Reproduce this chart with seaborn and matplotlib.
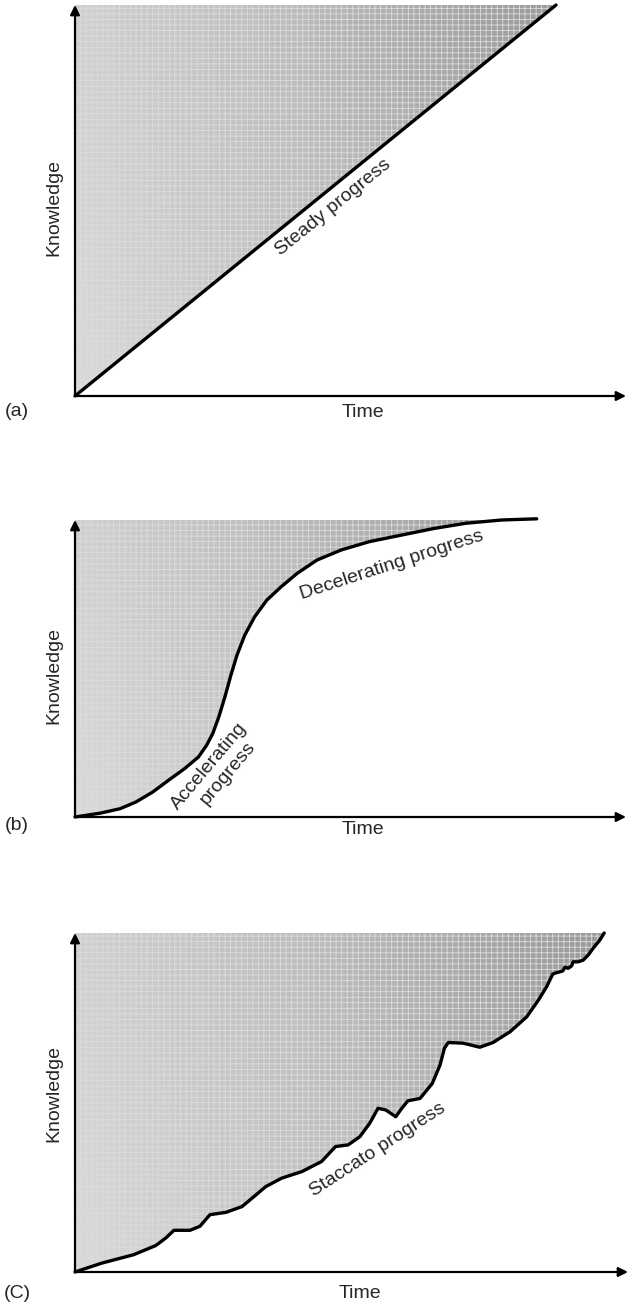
import numpy as np
import matplotlib
matplotlib.use('Agg')
import matplotlib.pyplot as plt
from matplotlib.patches import Polygon
from matplotlib import transforms
import seaborn as sns

sns.set_style('white')
plt.rcParams['font.family'] = ['Liberation Sans', 'DejaVu Sans']
plt.rcParams['hatch.linewidth'] = 0.6

# ---- data (time and knowledge, both 0..1 of the axis length)
time_a = [0.0, 0.873]
know_a = [0.0, 1.0]

time_b = [0.0, 0.046, 0.082, 0.111, 0.141, 0.170, 0.199, 0.224, 0.239, 0.250,
          0.261, 0.272, 0.283, 0.294, 0.308, 0.326, 0.348, 0.374, 0.403, 0.439,
          0.483, 0.534, 0.592, 0.650, 0.709, 0.774, 0.838]
know_b = [0.0, 0.013, 0.028, 0.051, 0.084, 0.124, 0.163, 0.202, 0.242, 0.281,
          0.337, 0.404, 0.478, 0.545, 0.612, 0.674, 0.730, 0.775, 0.820, 0.865,
          0.899, 0.927, 0.949, 0.971, 0.989, 1.0, 1.004]

time_c = [0.0, 0.048, 0.106, 0.146, 0.164, 0.179, 0.208, 0.226, 0.244, 0.273,
          0.302, 0.324, 0.345, 0.374, 0.410, 0.446, 0.471, 0.494, 0.515, 0.533,
          0.548, 0.562, 0.580, 0.591, 0.602, 0.624, 0.646, 0.660, 0.668, 0.675,
          0.702, 0.732, 0.756, 0.787, 0.817, 0.838, 0.853, 0.864, 0.871, 0.882,
          0.886, 0.892, 0.898, 0.901, 0.910, 0.919, 0.928, 0.937, 0.949, 0.957]
know_c = [0.0, 0.026, 0.051, 0.078, 0.100, 0.123, 0.123, 0.135, 0.169, 0.176,
          0.193, 0.223, 0.252, 0.277, 0.296, 0.326, 0.370, 0.375, 0.399, 0.439,
          0.483, 0.478, 0.458, 0.483, 0.505, 0.512, 0.556, 0.610, 0.660, 0.677,
          0.675, 0.663, 0.677, 0.709, 0.753, 0.802, 0.842, 0.879, 0.883, 0.888,
          0.899, 0.896, 0.903, 0.915, 0.915, 0.920, 0.935, 0.955, 0.979, 1.0]

panel_tags = ['(a)', '(b)', '(C)']
x_label = 'Time'
y_label = 'Knowledge'

W, H = 629, 1305
fig = plt.figure(figsize=(W / 100, H / 100), dpi=100)


def px_axes(left, top, right, bottom):
    return fig.add_axes([left / W, 1 - bottom / H, (right - left) / W, (bottom - top) / H])


def draw_panel(ax, t, k):
    ax.set_xlim(0, 1)
    ax.set_ylim(0, 1)
    ax.axis('off')
    # shaded area between knowledge axis and the curve
    verts = [(0, 0)] + list(zip(t, k)) + [(t[-1], 1.0), (0, 1.0)]
    poly = Polygon(verts, closed=True, facecolor='none', edgecolor='none')
    ax.add_patch(poly)
    xx = np.linspace(0, 1, 300)
    yy = np.linspace(0, 1, 150)
    gx, gy = np.meshgrid(xx, yy)
    shade = 0.25 + 0.20 * np.clip(gx / t[-1], 0, 1) + 0.04 * gy
    img = ax.imshow(shade, extent=[0, 1, 0, 1], origin='lower', cmap='Greys',
                    vmin=0, vmax=1, aspect='auto', interpolation='bilinear', zorder=1)
    img.set_clip_path(poly)
    hatch = Polygon(verts, closed=True, facecolor='none', edgecolor='#dcdcdc',
                    hatch='+++', linewidth=0, zorder=2)
    ax.add_patch(hatch)
    sns.lineplot(x=t, y=k, ax=ax, color='black', linewidth=2.4, sort=False,
                 estimator=None, zorder=4)
    for c in ax.lines:
        c.set_clip_on(False)
    # axes as arrows
    for tip in [(1, 0), (0, 1)]:
        ax.annotate('', xy=tip, xytext=(0, 0), xycoords='data',
                    arrowprops=dict(arrowstyle='-|>', color='black', lw=1.6,
                                    mutation_scale=14, shrinkA=0, shrinkB=0), zorder=5)


def curve_label(ax, x, y, s, angle, perp, along=0.0):
    # text centred on a point, pushed sideways (in pixels) to sit beside the curve
    a = np.deg2rad(angle)
    dx = along * np.cos(a) + perp * np.sin(a)
    dy = along * np.sin(a) - perp * np.cos(a)
    tr = transforms.offset_copy(ax.transData, fig=fig, x=dx, y=dy, units='dots')
    ax.text(x, y, s, transform=tr, rotation=angle, rotation_mode='anchor',
            ha='center', va='center', fontsize=14, zorder=6)


ax_a = px_axes(75, 5, 626, 396)
ax_b = px_axes(75, 520, 626, 817)
ax_c = px_axes(75, 933, 628, 1272)

draw_panel(ax_a, time_a, know_a)
draw_panel(ax_b, time_b, know_b)
draw_panel(ax_c, time_c, know_c)

curve_label(ax_a, 0.45, 0.45 / 0.873, 'Steady progress', 39, 17)
curve_label(ax_b, 0.574, 0.848, 'Decelerating progress', 18, 0)
curve_label(ax_b, 0.224, 0.202, 'Accelerating', 50, 14)
curve_label(ax_b, 0.224, 0.202, 'progress', 50, 33, along=6)
curve_label(ax_c, 0.548, 0.360, 'Staccato progress', 33, 0)

# axis titles and panel tags
for ky, ty, tx in [(207, 413, 363), (676, 829, 363), (1094, 1293, 360)]:
    fig.text(54 / W, 1 - ky / H, y_label, rotation=90, fontsize=14, ha='center', va='center')
    fig.text(tx / W, 1 - ty / H, x_label, fontsize=14, ha='center', va='center')
for tag, tagy in zip(panel_tags, [412, 825, 1293]):
    fig.text(17 / W, 1 - tagy / H, tag, fontsize=14, ha='center', va='center')

fig.savefig('out.png', dpi=100)
